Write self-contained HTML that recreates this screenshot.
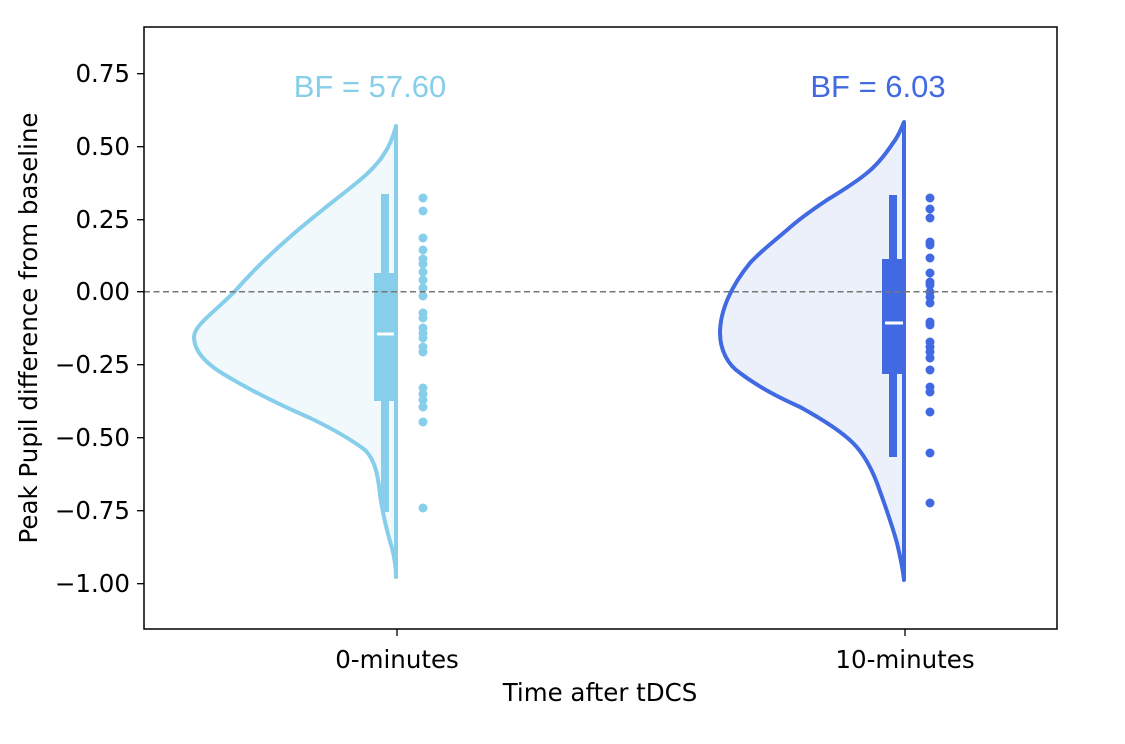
<!DOCTYPE html>
<html><head><meta charset="utf-8"><style>body{margin:0;background:#fff}</style></head><body>
<svg width="1125" height="739" viewBox="0 0 1125 739" xmlns="http://www.w3.org/2000/svg" font-family="'DejaVu Sans','Liberation Sans',sans-serif">
<rect width="1125" height="739" fill="#fff"/>
<!-- violin 1 -->
<path d="M396,126 C390,150 378,165 360,180 C330,205 280,240 236,290 C215,312 194,325 194,337 C194,352 208,365 225,375 C250,390 280,405 310,418 C335,430 352,440 365,450 C375,460 378,475 380,495 C383,515 388,535 392,548 C395,560 396,570 396,577 Z" fill="#f2f9fd" stroke="#87ceeb" stroke-width="4" stroke-linejoin="round"/>
<line x1="385" y1="194" x2="385" y2="512" stroke="#87ceeb" stroke-width="8"/>
<rect x="374" y="273" width="22" height="128" fill="#87ceeb"/>
<line x1="377" y1="334" x2="394" y2="334" stroke="#fff" stroke-width="3"/>
<g fill="#87ceeb">
<circle cx="423" cy="198" r="4.5"/><circle cx="423" cy="211" r="4.5"/><circle cx="423" cy="238" r="4.5"/><circle cx="423" cy="250" r="4.5"/><circle cx="423" cy="259" r="4.5"/><circle cx="423" cy="264" r="4.5"/><circle cx="423" cy="272" r="4.5"/><circle cx="423" cy="280" r="4.5"/><circle cx="423" cy="288" r="4.5"/><circle cx="423" cy="296" r="4.5"/><circle cx="423" cy="313" r="4.5"/><circle cx="423" cy="318" r="4.5"/><circle cx="423" cy="328" r="4.5"/><circle cx="423" cy="333" r="4.5"/><circle cx="423" cy="338" r="4.5"/><circle cx="423" cy="347" r="4.5"/><circle cx="423" cy="352" r="4.5"/><circle cx="423" cy="388" r="4.5"/><circle cx="423" cy="394" r="4.5"/><circle cx="423" cy="400" r="4.5"/><circle cx="423" cy="407" r="4.5"/><circle cx="423" cy="422" r="4.5"/><circle cx="423" cy="508" r="4.5"/>
</g>
<!-- violin 2 -->
<path d="M904,122 C900,132 897,138 893,143 C885,155 877,165 867,173 C855,183 840,192 827,200 C812,210 798,220 787,230 C773,242 760,252 750,263 C732,285 720,310 720,333 C720,350 728,365 740,373 C760,388 780,398 800,407 C820,418 840,430 853,443 C865,455 872,470 877,483 C885,505 892,525 897,543 C901,560 903,570 904,580 Z" fill="#ebf0fb" stroke="#4169e1" stroke-width="4" stroke-linejoin="round"/>
<line x1="893" y1="195" x2="893" y2="457" stroke="#4169e1" stroke-width="8"/>
<rect x="882" y="259" width="22" height="115" fill="#4169e1"/>
<line x1="885" y1="323" x2="903" y2="323" stroke="#fff" stroke-width="3"/>
<g fill="#4169e1">
<circle cx="930" cy="198" r="4.5"/><circle cx="930" cy="209" r="4.5"/><circle cx="930" cy="218" r="4.5"/><circle cx="930" cy="242" r="4.5"/><circle cx="930" cy="245" r="4.5"/><circle cx="930" cy="258" r="4.5"/><circle cx="930" cy="273" r="4.5"/><circle cx="930" cy="282" r="4.5"/><circle cx="930" cy="285" r="4.5"/><circle cx="930" cy="292" r="4.5"/><circle cx="930" cy="297" r="4.5"/><circle cx="930" cy="303" r="4.5"/><circle cx="930" cy="322" r="4.5"/><circle cx="930" cy="325" r="4.5"/><circle cx="930" cy="342" r="4.5"/><circle cx="930" cy="347" r="4.5"/><circle cx="930" cy="352" r="4.5"/><circle cx="930" cy="358" r="4.5"/><circle cx="930" cy="370" r="4.5"/><circle cx="930" cy="387" r="4.5"/><circle cx="930" cy="392" r="4.5"/><circle cx="930" cy="412" r="4.5"/><circle cx="930" cy="453" r="4.5"/><circle cx="930" cy="503" r="4.5"/>
</g>
<!-- zero line -->
<line x1="144" y1="291.7" x2="1057" y2="291.7" stroke="#777" stroke-width="1.5" stroke-dasharray="6,3.5"/>
<!-- axes -->
<rect x="144" y="27" width="913" height="602" fill="none" stroke="#000" stroke-width="1.5"/>
<g stroke="#000" stroke-width="1.3">
<line x1="137" y1="73.7" x2="144" y2="73.7"/><line x1="137" y1="146.7" x2="144" y2="146.7"/><line x1="137" y1="219.7" x2="144" y2="219.7"/><line x1="137" y1="291.7" x2="144" y2="291.7"/><line x1="137" y1="364.7" x2="144" y2="364.7"/><line x1="137" y1="437.7" x2="144" y2="437.7"/><line x1="137" y1="510.7" x2="144" y2="510.7"/><line x1="137" y1="583.7" x2="144" y2="583.7"/>
<line x1="397" y1="629" x2="397" y2="636"/><line x1="905" y1="629" x2="905" y2="636"/>
</g>
<g font-size="24.5" text-anchor="end" fill="#000">
<text x="130" y="82">0.75</text><text x="130" y="155">0.50</text><text x="130" y="228">0.25</text><text x="130" y="300">0.00</text><text x="130" y="373">−0.25</text><text x="130" y="446">−0.50</text><text x="130" y="519">−0.75</text><text x="130" y="592">−1.00</text>
</g>
<g font-size="24.5" text-anchor="middle" fill="#000">
<text x="397" y="668">0-minutes</text><text x="905" y="668">10-minutes</text>
<text x="600" y="701">Time after tDCS</text>
<text transform="translate(37,328) rotate(-90)">Peak Pupil difference from baseline</text>
</g>
<text x="370" y="97" font-size="31" text-anchor="middle" fill="#87ceeb" font-family="'Liberation Sans',sans-serif">BF = 57.60</text>
<text x="878" y="97" font-size="31" text-anchor="middle" fill="#4169e1" font-family="'Liberation Sans',sans-serif">BF = 6.03</text>
</svg>
</body></html>
